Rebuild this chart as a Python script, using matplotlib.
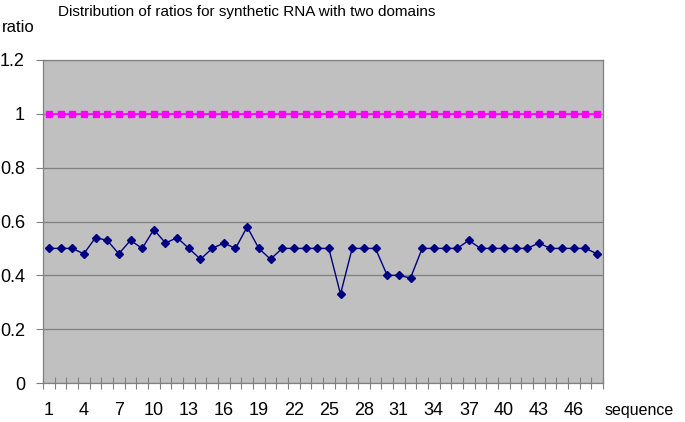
import matplotlib.pyplot as plt
import numpy as np

plt.rcParams['font.family'] = ['Liberation Sans', 'DejaVu Sans']

sequence = list(range(1, 49))
ratios = [0.50, 0.50, 0.50, 0.48, 0.54, 0.53, 0.48, 0.53, 0.50, 0.57,
          0.52, 0.54, 0.50, 0.46, 0.50, 0.52, 0.50, 0.58, 0.50, 0.46,
          0.50, 0.50, 0.50, 0.50, 0.50, 0.33, 0.50, 0.50, 0.50, 0.40,
          0.40, 0.39, 0.50, 0.50, 0.50, 0.50, 0.53, 0.50, 0.50, 0.50,
          0.50, 0.50, 0.52, 0.50, 0.50, 0.50, 0.50, 0.48]
reference = [1.0] * 48
tick_labels = [str(s) for s in sequence[::3]]

fig = plt.figure(figsize=(6.85, 4.22), dpi=100)
ax = fig.add_axes([43 / 685, 39 / 422, 560 / 685, 323 / 422])
ax.set_facecolor('#c0c0c0')

ax.plot(sequence, reference, color='#ff00ff', marker='s', markersize=4.5,
        linewidth=1.2, zorder=3)
ax.plot(sequence, ratios, color='#000080', marker='D', markersize=4,
        linewidth=1, zorder=3)

ax.set_xlim(0.5, 48.5)
ax.set_ylim(0, 1.2)
ax.set_yticks(np.arange(0, 1.21, 0.2))
ax.set_yticklabels(['0', '0.2', '0.4', '0.6', '0.8', '1', '1.2'], fontsize=13)
ax.yaxis.grid(True, color='#808080', linewidth=0.9)
ax.set_axisbelow(True)

ax.set_xticks(sequence[::3])
ax.set_xticklabels(tick_labels, fontsize=13)
ax.set_xticks(np.arange(0.5, 49, 1), minor=True)
ax.tick_params(axis='x', which='major', length=0, pad=14)
ax.tick_params(axis='x', which='minor', direction='inout', length=8,
               color='#808080', width=0.8)
ax.tick_params(axis='y', length=5, color='#808080', width=0.8, pad=8)

for s in ax.spines.values():
    s.set_color('#808080')
    s.set_linewidth(0.9)

fig.text(247 / 685, 1 - 12 / 422, 'Distribution of ratios for synthetic RNA with two domains',
         ha='center', va='center', fontsize=11)
fig.text(2 / 685, 1 - 27 / 422, 'ratio', ha='left', va='center', fontsize=12)
fig.text(605 / 685, 1 - 411 / 422, 'sequence', ha='left', va='center', fontsize=11.5)

fig.savefig('out.png', dpi=100)
